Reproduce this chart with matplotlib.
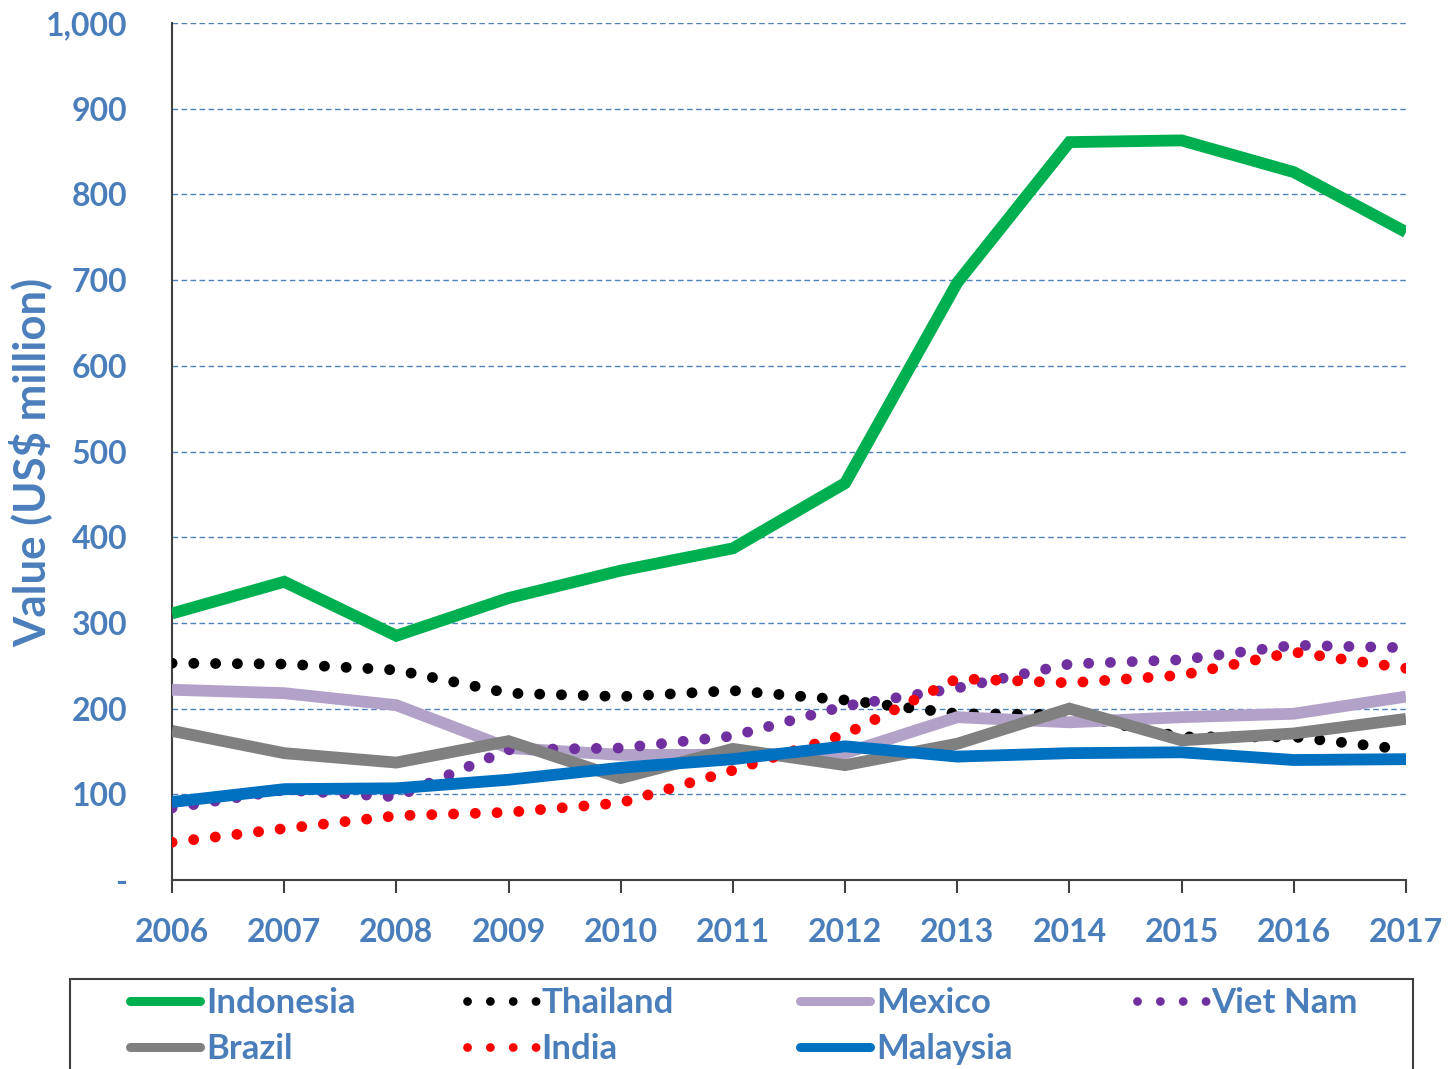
import matplotlib
matplotlib.use("Agg")
import matplotlib.pyplot as plt
from matplotlib.lines import Line2D
from matplotlib.patches import Rectangle
from matplotlib.ticker import FuncFormatter

years = [2006, 2007, 2008, 2009, 2010, 2011, 2012, 2013, 2014, 2015, 2016, 2017]
indonesia = [311, 348, 285, 329, 361, 387, 463, 697, 861, 863, 826, 756]
thailand = [253, 252, 245, 218, 214, 221, 210, 194, 193, 167, 167, 152]
mexico = [222, 218, 204, 154, 146, 146, 148, 190, 184, 190, 194, 214]
viet_nam = [84, 105, 97, 152, 154, 168, 203, 224, 252, 257, 274, 271]
brazil = [174, 148, 137, 162, 119, 153, 134, 159, 200, 163, 171, 188]
india = [44, 60, 75, 79, 90, 128, 170, 235, 230, 239, 266, 247]
malaysia = [91, 106, 107, 117, 131, 141, 156, 144, 148, 149, 140, 141]
yticks = [0, 100, 200, 300, 400, 500, 600, 700, 800, 900, 1000]

plt.rcParams['font.family'] = ['Lato', 'DejaVu Sans']
plt.rcParams['font.weight'] = 'bold'
TXT = '#4a7ebb'
FS = 23

fig = plt.figure(figsize=(14.51, 10.69), dpi=100)
ax = fig.add_axes([172/1451, 1-880/1069, (1406-172)/1451, (880-23)/1069])

solid_lw = 8.5
dot_lw = 7.8
series = [
    ("Indonesia", indonesia, '#00B050', 'solid'),
    ("Thailand", thailand, '#000000', 'dot'),
    ("Mexico", mexico, '#B3A2C7', 'solid'),
    ("Viet Nam", viet_nam, '#7030A0', 'dot'),
    ("Brazil", brazil, '#808080', 'solid'),
    ("India", india, '#FF0000', 'dot'),
    ("Malaysia", malaysia, '#0070C0', 'solid'),
]

handles = {}
for i, (name, vals, col, sty) in enumerate(series):
    if sty == 'solid':
        ax.plot(years, vals, color=col, lw=solid_lw, solid_capstyle='butt',
                solid_joinstyle='miter', zorder=3+i)
    else:
        ax.plot(years, vals, color=col, lw=dot_lw, dashes=(0.01, 2.0),
                dash_capstyle='round', zorder=3+i)
    handles[name] = (col, sty)

ax.set_xlim(2006, 2017)
ax.set_ylim(0, 1000)
ax.set_xticks(years)
ax.set_yticks(yticks)
ax.yaxis.set_major_formatter(FuncFormatter(lambda v, p: '-' if v == 0 else f'{int(v):,}'))
for y in yticks[1:]:
    ax.axhline(y, color='#4F81BD', lw=1.0, ls=(0, (4, 2.5)), zorder=1)

for s in ['top', 'right']:
    ax.spines[s].set_visible(False)
for s in ['left', 'bottom']:
    ax.spines[s].set_color('#404040')
    ax.spines[s].set_linewidth(1.5)
ax.tick_params(axis='y', length=0, pad=32, labelsize=FS, labelcolor=TXT)
ax.tick_params(axis='x', direction='out', length=9, width=1.5, color='#404040',
               pad=18, labelsize=FS, labelcolor=TXT)
for lab in ax.get_xticklabels() + ax.get_yticklabels():
    lab.set_fontweight('bold')

fig.text(30/1451, 1-462/1069, 'Value (US$ million)', rotation=90, ha='center', va='center',
         fontsize=31.5, color=TXT, fontweight='bold')

# legend box (cut off at the figure bottom as in the reference)
fig.patches.append(Rectangle((70/1451, -0.05), (1413-70)/1451, 0.05+(1069-979)/1069,
                             transform=fig.transFigure, fill=False, edgecolor='#404040',
                             lw=1.5, zorder=1))
legend_layout = [
    ("Indonesia", 130, 1001), ("Thailand", 465, 1001), ("Mexico", 800, 1001), ("Viet Nam", 1135, 1001),
    ("Brazil", 130, 1047), ("India", 465, 1047), ("Malaysia", 800, 1047),
]
for name, x0, yp in legend_layout:
    col, sty = handles[name]
    yf = 1 - yp/1069
    if sty == 'solid':
        fig.add_artist(Line2D([x0/1451, (x0+70)/1451], [yf, yf], color=col, lw=6.5,
                              solid_capstyle='round', transform=fig.transFigure))
    else:
        fig.add_artist(Line2D([(x0+2)/1451, (x0+76)/1451], [yf, yf], color=col, lw=6.3,
                              dashes=(0.01, 2.6), dash_capstyle='round',
                              transform=fig.transFigure))
    fig.text((x0+76)/1451, yf - 2/1069, name, ha='left', va='center', fontsize=25, color=TXT,
             fontweight='bold')

fig.savefig('out.png', dpi=100)
